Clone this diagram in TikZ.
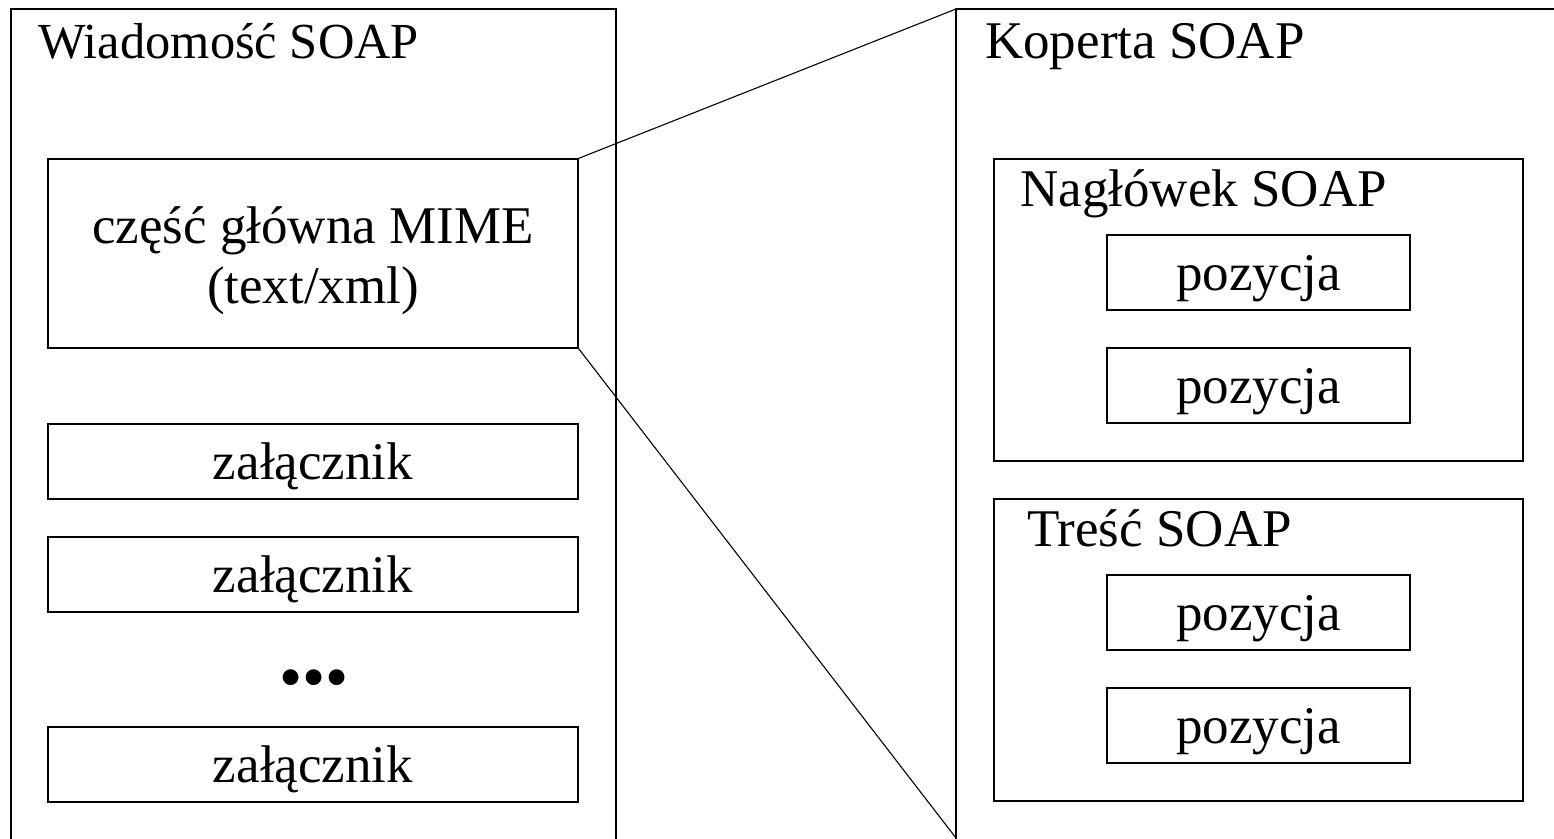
\documentclass[tikz,border=0pt]{standalone}
\usepackage{fontspec}
\setmainfont{Liberation Serif}
\begin{document}
\begin{tikzpicture}[x=1pt,y=-1pt,
  box/.style={draw=black, line width=1.3pt, inner sep=0pt, align=center,
    font=\fontsize{53}{60}\selectfont, text height=47pt, text depth=11.5pt},
  frame/.style={draw=black, line width=1.3pt},
  big/.style={font=\fontsize{53}{60}\selectfont, inner sep=0pt},
  conn/.style={draw=black, line width=1.1pt}]
\useasboundingbox (0,0) rectangle (1554,838);
% outer frames
\draw[frame] (11,845) -- (11,9) -- (616,9) -- (616,845);
\draw[frame] (1560,9) -- (956,9) -- (956,845);
\coordinate (ktop) at (956,9);
\coordinate (kbot) at (956,838);
% titles
\node[big, font=\fontsize{50.5}{60}\selectfont, anchor=base west] (t1) at (38,58) {Wiadomość SOAP};
\node[big, anchor=base west] (t2) at (985,58) {Koperta SOAP};
% left boxes
\node[box, minimum width=530pt, minimum height=189pt] (mime) at (313,253.5) {};
\node[big, anchor=base] (mimeA) at (313,243) {część główna MIME};
\node[big, anchor=base] (mimeB) at (313,303) {(text/xml)};
\node[box, minimum width=530pt, minimum height=75pt] (z1) at (313,461.5) {załącznik};
\node[box, minimum width=530pt, minimum height=75pt] (z2) at (313,574.5) {załącznik};
\node[font=\fontsize{66}{70}\selectfont, inner sep=0pt] (dots) at (314,685) {•••};
\node[box, minimum width=530pt, minimum height=75pt] (z3) at (313,764.5) {załącznik};
% right boxes
\node[box, minimum width=529pt, minimum height=302pt] (hdr) at (1258.5,310) {};
\node[big, anchor=base west] (hdrt) at (1020,206) {Nagłówek SOAP};
\node[box, minimum width=303pt, minimum height=75pt] (p1) at (1258.5,272.5) {pozycja};
\node[box, minimum width=303pt, minimum height=75pt] (p2) at (1258.5,385.5) {pozycja};
\node[box, minimum width=529pt, minimum height=302pt] (body) at (1258.5,650) {};
\node[big, anchor=base west] (bodyt) at (1027,546) {Treść SOAP};
\node[box, minimum width=303pt, minimum height=75pt] (p3) at (1258.5,612.5) {pozycja};
\node[box, minimum width=303pt, minimum height=75pt] (p4) at (1258.5,725.5) {pozycja};
% connectors
\draw[conn] (mime.north east) -- (ktop);
\draw[conn] (mime.south east) -- (kbot);
\end{tikzpicture}
\end{document}
